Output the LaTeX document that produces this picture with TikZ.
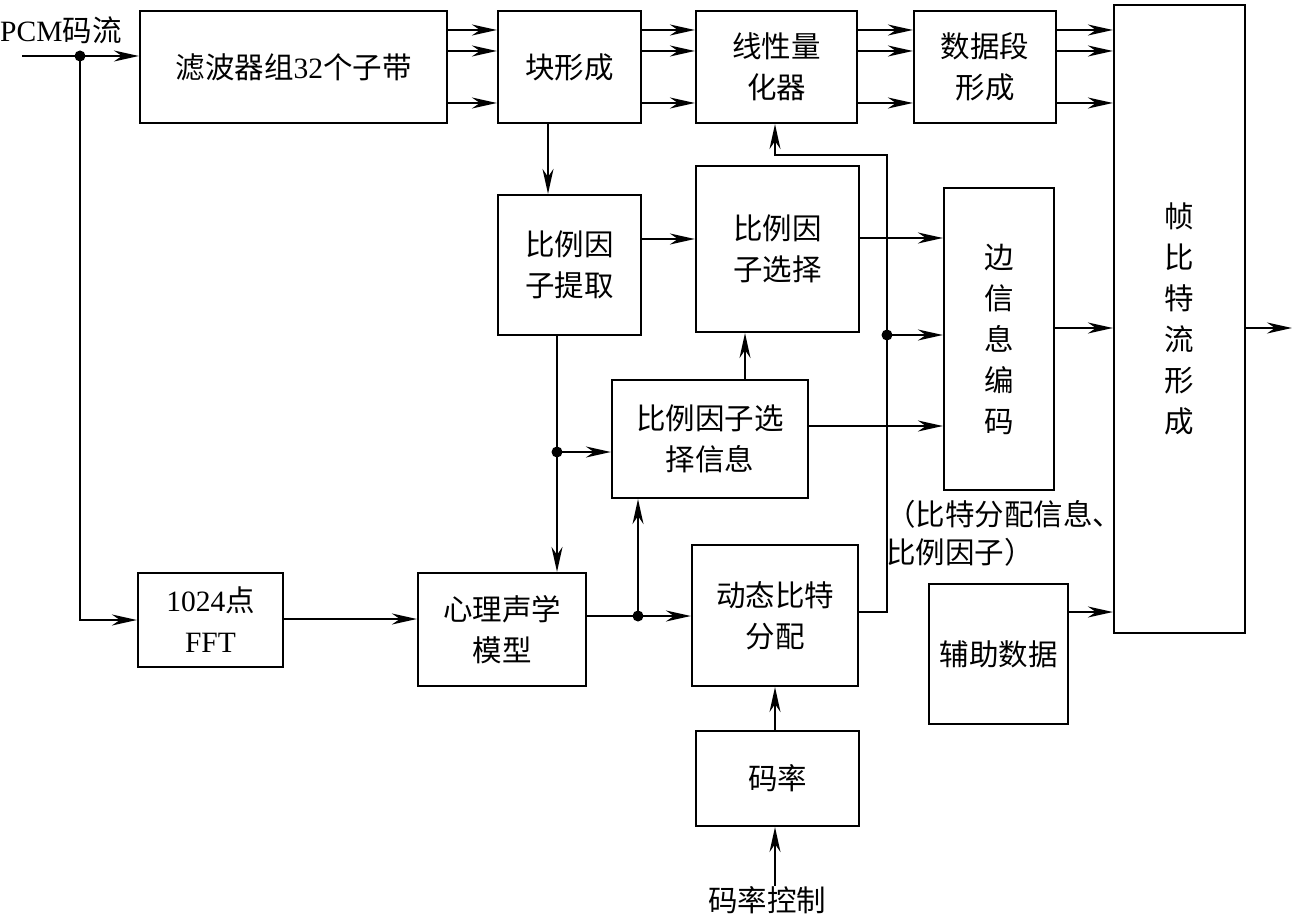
\documentclass[tikz,border=0pt]{standalone}
\usepackage{fontspec}
\setmainfont{Liberation Serif}
\newfontfamily\cjk{Noto Sans CJK SC}
\newfontfamily\lat{Liberation Serif}
\usetikzlibrary{arrows.meta}
\begin{document}
\begin{tikzpicture}[x=1pt,y=-1pt,
  box/.style={draw,line width=2.2pt,align=center,inner sep=0pt,font=\cjk\fontsize{29.5}{41}\selectfont},
  conn/.style={line width=2pt},
  arr/.style={conn,-{Stealth[length=25pt,width=11pt,inset=8pt]}},
  lbl/.style={inner sep=0pt,font=\cjk\fontsize{29.5}{38}\selectfont},
  dot/.style={circle,fill,inner sep=0pt,minimum size=11pt}]
\useasboundingbox (0,0) rectangle (1296,917);
% boxes
\node[box,minimum width=307pt,minimum height=112pt] (filt) at (293.5,67) {滤波器组{\lat 32}个子带};
\node[box,minimum width=143pt,minimum height=112pt] (blk) at (569.5,67) {块形成};
\node[box,minimum width=161pt,minimum height=112pt] (quant) at (776.5,67) {线性量\\化器};
\node[box,minimum width=142pt,minimum height=112pt] (seg) at (985,67) {数据段\\形成};
\node[box,minimum width=131pt,minimum height=628pt] (frame) at (1179.5,319) {帧\\比\\特\\流\\形\\成};
\node[box,minimum width=143pt,minimum height=140pt] (sfext) at (569.5,265) {比例因\\子提取};
\node[box,minimum width=163pt,minimum height=166pt] (sfsel) at (777.5,249) {比例因\\子选择};
\node[box,minimum width=110pt,minimum height=302pt] (side) at (999,339) {边\\信\\息\\编\\码};
\node[box,minimum width=196pt,minimum height=118pt] (sfinfo) at (710,439) {比例因子选\\择信息};
\node[box,minimum width=145pt,minimum height=94pt] (fft) at (210.5,620) {{\lat 1024}点\\{\lat FFT}};
\node[box,minimum width=168pt,minimum height=113pt] (psy) at (502,629.5) {心理声学\\模型};
\node[box,minimum width=166pt,minimum height=141pt] (dba) at (775,615.5) {动态比特\\分配};
\node[box,minimum width=163pt,minimum height=95pt] (rate) at (777.5,778.5) {码率};
\node[box,minimum width=139pt,minimum height=140pt] (aux) at (998.5,654) {辅助数据};
% labels
\node[lbl,anchor=west] (pcm) at (0,30) {{\lat PCM}码流};
\node[lbl] (ctrl) at (767,900) {码率控制};
\node[lbl,anchor=north west,align=left] (note) at (886,500) {（比特分配信息、\\比例因子）};
% coordinates and dots
\coordinate (pcmin) at (22,56);
\node[dot] (d1) at (80,56) {};
\node[dot] (d2) at (557,452) {};
\node[dot] (d3) at (638,616) {};
\node[dot] (d4) at (887,335) {};
\coordinate (out) at (1292,328);
\coordinate (c1) at (887,612);
\coordinate (c2) at (887,155);
\coordinate (c3) at (775,155);
% input
\draw[arr] (pcmin) -- (pcmin -| filt.west);
\draw[arr] (d1.center) |- (fft.west);
% parallel buses
\foreach \yy in {30,51,103}{
  \draw[arr] (filt.east |- 0,\yy) -- (blk.west |- 0,\yy);
  \draw[arr] (blk.east |- 0,\yy) -- (quant.west |- 0,\yy);
  \draw[arr] (quant.east |- 0,\yy) -- (seg.west |- 0,\yy);
  \draw[arr] (seg.east |- 0,\yy) -- (frame.west |- 0,\yy);
}
\draw[arr] (blk.south -| 548,0) -- (sfext.north -| 548,0);
\draw[arr] (sfext.east |- 0,239) -- (sfsel.west |- 0,239);
\draw[arr] (sfsel.east |- 0,238) -- (side.west |- 0,238);
\draw[arr] (sfinfo.north -| 745,0) -- (sfsel.south -| 745,0);
\draw[arr] (sfinfo.east |- 0,426) -- (side.west |- 0,426);
\draw[arr] (sfext.south -| d2) -- (psy.north -| d2);
\draw[arr] (d2.center) -- (sfinfo.west |- d2);
\draw[arr] (fft.east |- 0,619) -- (psy.west |- 0,619);
\draw[arr] (psy.east |- d3) -- (dba.west |- d3);
\draw[arr] (d3.center) -- (sfinfo.south -| d3);
\draw[arr] (dba.east |- c1) -- (c1) -- (c2) -- (c3) -- (quant.south -| c3);
\draw[arr] (d4.center) -- (side.west |- d4);
\draw[arr] (side.east |- out) -- (frame.west |- out);
\draw[arr] (aux.east |- c1) -- (frame.west |- c1);
\draw[arr] (frame.east |- out) -- (out);
\draw[arr] (rate.north -| dba.south) -- (dba.south);
\draw[arr] (ctrl.north -| dba.south) -- (rate.south -| dba.south);
\end{tikzpicture}
\end{document}
